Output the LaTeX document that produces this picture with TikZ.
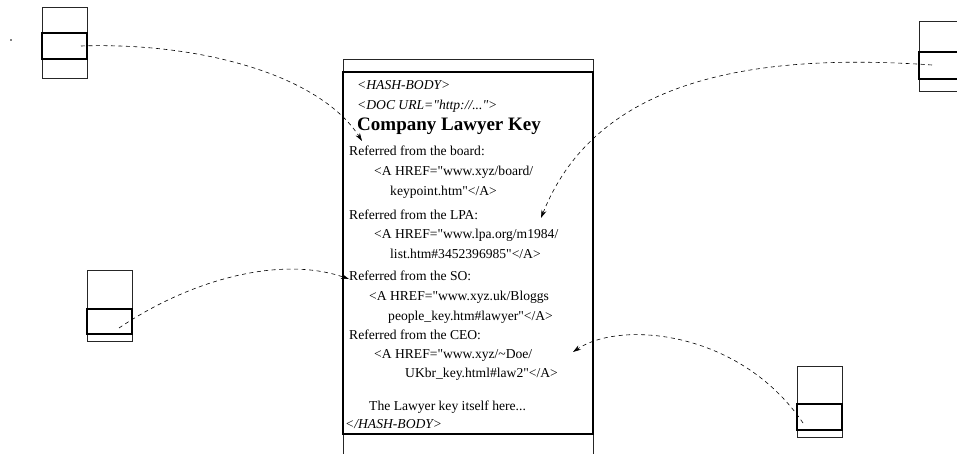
\documentclass[tikz,border=0pt]{standalone}
\usepackage{fontspec}
\setmainfont{Liberation Serif}[Ligatures=TeXOff]
\usetikzlibrary{arrows.meta}
\begin{document}
\begin{tikzpicture}[x=1pt,y=-1pt,
  thinbox/.style={draw=black!85,line width=0.8pt,inner sep=0pt,minimum width=45pt},
  thickbox/.style={draw=black,line width=2.6pt,inner sep=0pt,minimum width=45pt},
  txt/.style={anchor=base west,inner sep=0pt,font=\fontsize{13.6}{16}\selectfont},
  itxt/.style={txt,font=\fontsize{13.6}{16}\selectfont\itshape},
  btxt/.style={anchor=base west,inner sep=0pt,font=\fontsize{19}{22}\selectfont\bfseries},
  link/.style={dashed,dash pattern=on 4pt off 3.5pt,line width=0.6pt},
  linkarrow/.style={link,-{Stealth[length=8pt,width=5pt]}}]
\useasboundingbox (0,0) rectangle (957,454);

% small record boxes
\node[thinbox,minimum height=71pt] (b1o) at (64.5,42.5) {};
\node[thickbox,minimum height=26pt] (b1) at (64.5,46) {};
\node[thinbox,minimum height=70pt] (b2o) at (941.5,56) {};
\node[thickbox,minimum height=27pt] (b2) at (941.5,65.5) {};
\node[thinbox,minimum height=71pt] (b3o) at (109.5,305.5) {};
\node[thickbox,minimum height=25pt] (b3) at (109.5,321.5) {};
\node[thinbox,minimum height=71pt] (b4o) at (819.5,401.5) {};
\node[thickbox,minimum height=26pt] (b4) at (819.5,417) {};

\fill (11,40) circle (0.9pt);

% central document
\draw[line width=0.8pt,draw=black!85] (343,454) -- (343,59) -- (593,59) -- (593,454);
\node[draw,line width=2.6pt,inner sep=0pt,minimum width=250pt,minimum height=362pt] (doc) at (468,253) {};

\node[itxt] (t1) at (357,90) {<HASH-BODY>};
\node[itxt] (t2) at (357,110) {<DOC URL="http://...">};
\node[btxt] (t3) at (357,131) {Company Lawyer Key};
\node[txt] (t4) at (349,156) {Referred from the board:};
\node[txt] (t5) at (374,176) {<A HREF="www.xyz/board/};
\node[txt] (t6) at (390,196) {keypoint.htm"</A>};
\node[txt] (t7) at (349,219) {Referred from the LPA:};
\node[txt] (t8) at (374,238) {<A HREF="www.lpa.org/m1984/};
\node[txt] (t9) at (390,258) {list.htm\#3452396985"</A>};
\node[txt] (t10) at (349,280) {Referred from the SO:};
\node[txt] (t11) at (369,300) {<A HREF="www.xyz.uk/Bloggs};
\node[txt] (t12) at (388,320) {people\_key.htm\#lawyer"</A>};
\node[txt] (t13) at (349,339) {Referred from the CEO:};
\node[txt] (t14) at (374,358) {<A HREF="www.xyz/\char`~Doe/};
\node[txt] (t15) at (405,377) {UKbr\_key.html\#law2"</A>};
\node[txt] (t16) at (369,410) {The Lawyer key itself here...};
\node[itxt] (t17) at (345,428) {</HASH-BODY>};

% connector ends
\coordinate (s1) at (81,46);
\coordinate (e1) at (362,141);
\coordinate (s2) at (932,65);
\coordinate (e2) at (541,218);
\coordinate (s3) at (119,328);
\coordinate (e3) at (349,279);
\coordinate (s4) at (803,423);
\coordinate (e4) at (573,352);

\draw[linkarrow] (s1) .. controls (200,42) and (320,75) .. (e1);
\draw[linkarrow] (s2) .. controls (720,50) and (590,95) .. (e2);
\draw[linkarrow] (s3) .. controls (190,280) and (280,255) .. (e3);
\draw[linkarrow] (s4) .. controls (740,330) and (620,320) .. (e4);
\end{tikzpicture}
\end{document}
